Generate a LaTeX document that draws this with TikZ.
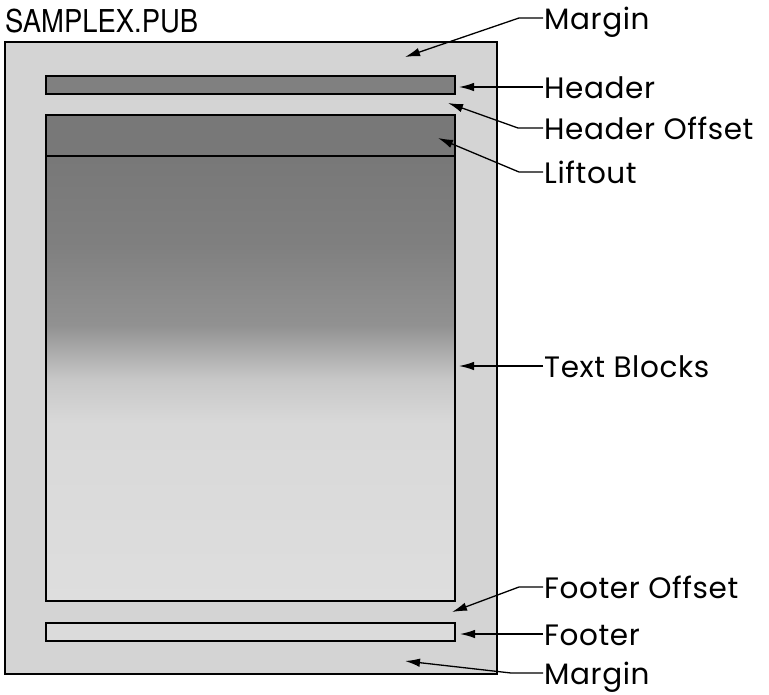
\documentclass[tikz,border=0pt]{standalone}
\usepackage{fontspec}
\setmainfont[LetterSpace=2]{Poppins}
\newfontfamily\titlefont[FakeStretch=0.87]{TeX Gyre Heros}
\usetikzlibrary{arrows.meta,calc}
\definecolor{pagegray}{gray}{0.83}
\definecolor{hdrgray}{gray}{0.50}
\definecolor{liftgray}{gray}{0.47}
\definecolor{tbA}{gray}{0.47}
\definecolor{tbB}{gray}{0.50}
\definecolor{tbC}{gray}{0.57}
\definecolor{tbD}{gray}{0.78}
\definecolor{tbE}{gray}{0.85}
\definecolor{tbF}{gray}{0.87}
\definecolor{ftrgray}{gray}{0.86}
\pgfdeclareverticalshading{tbshade}{100bp}{color(0bp)=(tbF); color(25bp)=(tbF); color(45bp)=(tbE); color(50bp)=(tbD); color(56bp)=(tbC); color(65bp)=(tbB); color(75bp)=(tbA); color(100bp)=(tbA)}
\begin{document}
\begin{tikzpicture}[x=1pt,y=-1pt,
  box/.style={draw=black,line width=1.8pt,anchor=north west,inner sep=0pt,outer sep=0pt},
  lbl/.style={anchor=west,inner xsep=1pt,inner ysep=0pt,text height=22pt,text depth=0pt,
              font=\fontsize{29.5}{30}\selectfont},
  arr/.style={line width=1.3pt,-{Latex[length=15pt,width=8.5pt]}}]
\useasboundingbox (0,0) rectangle (769,694);
% title
\node[anchor=base west,inner sep=0pt,font=\titlefont\fontsize{31.5}{30}\selectfont] (title) at (5,32) {SAMPLEX.PUB};
% page and blocks
\node[box,fill=pagegray,minimum width=492pt,minimum height=632pt] (page) at (5,42) {};
\node[box,fill=hdrgray,minimum width=409pt,minimum height=18pt] (header) at (46,76) {};
\node[box,shading=tbshade,minimum width=409pt,minimum height=445pt] (text) at (46,156) {};
\node[box,fill=liftgray,minimum width=409pt,minimum height=41pt] (liftout) at (46,115) {};
\node[box,fill=ftrgray,minimum width=409pt,minimum height=18pt] (footer) at (46,623) {};
% arrow targets
\coordinate (tMarginTop) at (405,57);
\coordinate (tHeader) at (459,87);
\coordinate (tHeaderOff) at (448,103);
\coordinate (tLiftout) at (438,138);
\coordinate (tText) at (459,366);
\coordinate (tFooterOff) at (452,612);
\coordinate (tFooter) at (460,634);
\coordinate (tMarginBot) at (405,661);
% labels
\node[lbl] (lMarginTop) at (543,18) {Margin};
\node[lbl] (lHeader) at (543,87) {Header};
\node[lbl] (lHeaderOff) at (543,128) {Header Offset};
\node[lbl] (lLiftout) at (543,172) {Liftout};
\node[lbl] (lText) at (543,366) {Text Blocks};
\node[lbl] (lFooterOff) at (543,587) {Footer Offset};
\node[lbl] (lFooter) at (543,634) {Footer};
\node[lbl] (lMarginBot) at (543,673) {Margin};
% connectors
\draw[arr] (lMarginTop.west) -- ++(-24,0) -- (tMarginTop);
\draw[arr] (lHeader.west) -- (tHeader);
\draw[arr] (lHeaderOff.west) -- ++(-25,0) -- (tHeaderOff);
\draw[arr] (lLiftout.west) -- ++(-24,0) -- (tLiftout);
\draw[arr] (lText.west) -- (tText);
\draw[arr] (lFooterOff.west) -- ++(-24,0) -- (tFooterOff);
\draw[arr] (lFooter.west) -- (tFooter);
\draw[arr] (lMarginBot.west) -- ++(-32,0) -- (tMarginBot);
\end{tikzpicture}
\end{document}
